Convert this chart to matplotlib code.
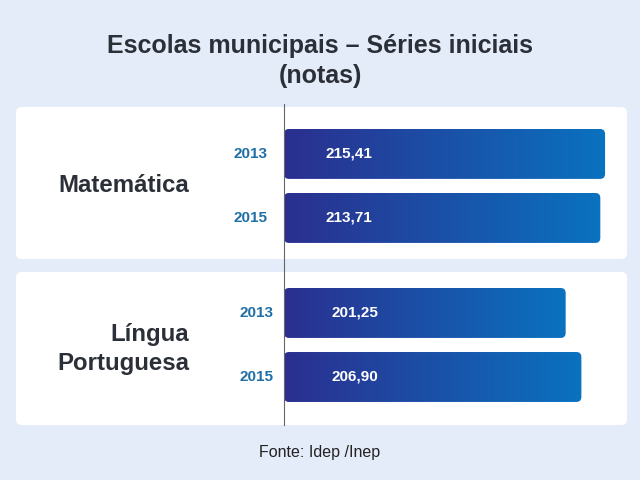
import numpy as np
import matplotlib.pyplot as plt
from matplotlib.patches import FancyBboxPatch
from matplotlib.colors import LinearSegmentedColormap

plt.rcParams['font.family'] = ['Liberation Sans', 'DejaVu Sans']

# data
subjects = ['Matemática', 'Língua\nPortuguesa']
years = ['2013', '2015']
matematica = [215.41, 213.71]
portugues = [201.25, 206.90]
title = 'Escolas municipais – Séries iniciais\n(notas)'
source = 'Fonte: Idep /Inep'

BG = '#e4ebf9'
YEAR_COLOR = '#1f6fa6'
TEXT_COLOR = '#2b2f38'
grad = LinearSegmentedColormap.from_list('bar', ['#2b2f8f', '#0a72c0'])

fig = plt.figure(figsize=(6.4, 4.8), dpi=100, facecolor=BG)
W, H = 640, 480


def fx(x):
    return x / W


def fy(y):
    return 1 - y / H


# white panels behind each group
for top, bot in [(107, 259), (272, 425)]:
    panel = FancyBboxPatch((fx(16), fy(bot)), fx(611), (bot - top) / H,
                           boxstyle='round,pad=0,rounding_size=0.009',
                           mutation_aspect=W / H, transform=fig.transFigure,
                           facecolor='white', edgecolor='none', zorder=-1)
    fig.add_artist(panel)

fig.text(0.5, fy(61), title, ha='center', va='center', fontsize=18,
         fontweight='bold', color=TEXT_COLOR, linespacing=1.3)
fig.text(0.5, fy(453), source, ha='center', va='center', fontsize=11.5,
         color='#222222')

ax = fig.add_axes([fx(284), fy(425), fx(627 - 284), (425 - 104) / H])
ax.set_facecolor('none')

base = 100
groups = [matematica, portugues]
group_y = [0.0, 2.484]
year_off = [-17, -10]   # px from bar start
value_off = [42, 47]
label_dy = [0, -4]      # px, subject label nudge

bar_h = 0.78
for gi, vals in enumerate(groups):
    ys = [group_y[gi] + k for k in range(len(vals))]
    bars = ax.barh(ys, [v - base for v in vals], left=base, height=bar_h,
                   color='none', edgecolor='none')
    for rect, v, yr, y in zip(bars, vals, years, ys):
        x0, y0 = rect.get_x(), rect.get_y()
        w, h = rect.get_width(), rect.get_height()
        clip = FancyBboxPatch((x0, y0), w, h,
                              boxstyle='round,pad=0,rounding_size=1.8',
                              mutation_aspect=0.044,
                              facecolor='none', edgecolor='none')
        ax.add_patch(clip)
        im = ax.imshow(np.linspace(0, 1, 256).reshape(1, -1), cmap=grad,
                       extent=[x0, x0 + w, y0 + h, y0], aspect='auto',
                       interpolation='bicubic', zorder=2)
        im.set_clip_path(clip)
        ax.annotate(yr, (base, y), xytext=(year_off[gi] * 0.72, 0),
                    textcoords='offset points', ha='right', va='center',
                    fontsize=11, fontweight='bold', color=YEAR_COLOR,
                    annotation_clip=False)
        ax.annotate(f'{v:.2f}'.replace('.', ','), (base, y),
                    xytext=(value_off[gi] * 0.72, 0),
                    textcoords='offset points', ha='left', va='center',
                    fontsize=11, fontweight='bold', color='white', zorder=3)

    mid = group_y[gi] + (len(vals) - 1) / 2
    ax.annotate(subjects[gi], (base, mid),
                xytext=(-95 * 0.72, label_dy[gi] * 0.72),
                textcoords='offset points', ha='right', va='center',
                fontsize=17.3, fontweight='bold', color=TEXT_COLOR,
                linespacing=1.3, annotation_clip=False)

ax.set_xlim(base, 223.3)
ax.set_ylim(group_y[1] + 1 + 0.75, -0.78)
ax.set_xticks([])
ax.set_yticks([])
for s in ['top', 'right', 'bottom']:
    ax.spines[s].set_visible(False)
ax.spines['left'].set_color('#666666')
ax.spines['left'].set_linewidth(0.8)

fig.savefig('out.png', dpi=100, facecolor=BG)
